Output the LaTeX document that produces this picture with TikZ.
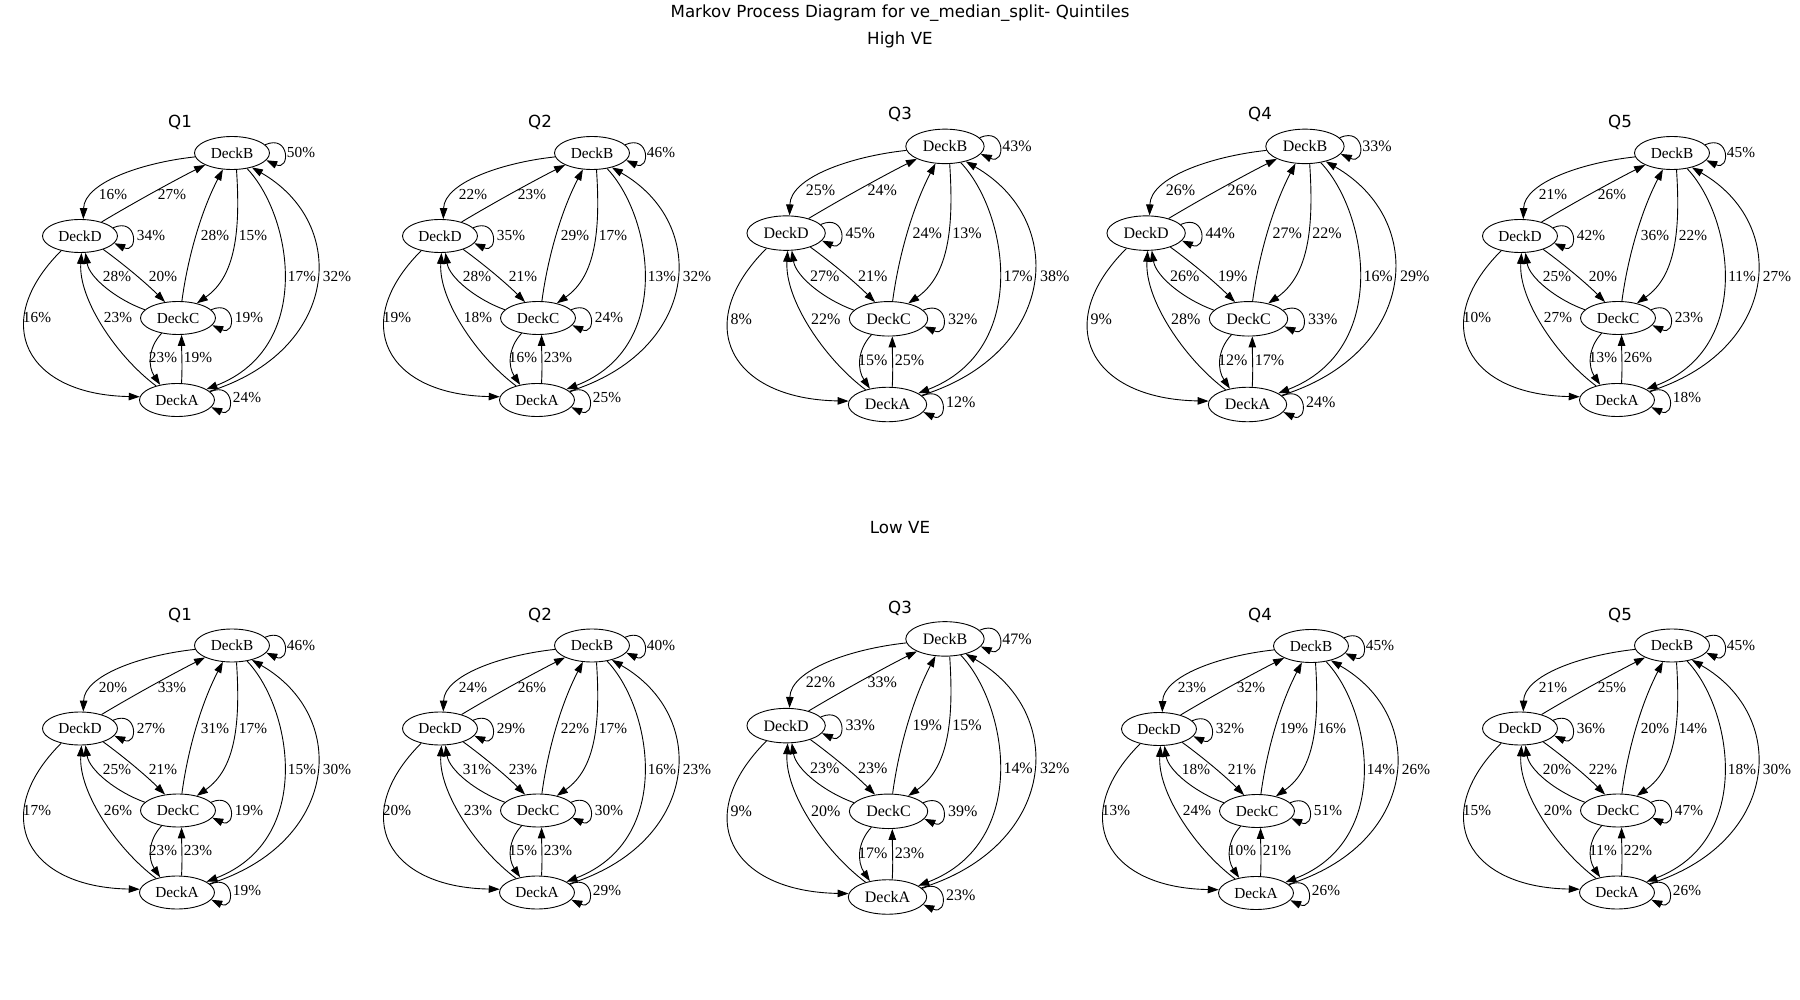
\documentclass[tikz,border=0pt]{standalone}
\usepackage{fontspec}
\setmainfont{Liberation Serif}
\newfontfamily\dvsans{DejaVu Sans}
\usetikzlibrary{shapes.geometric,arrows.meta}

\tikzset{
  deck/.style={ellipse,draw,line width=0.9pt,minimum width=75pt,minimum height=33pt,
    inner sep=0pt,font=\fontsize{15.3}{18}\selectfont},
  tr/.style={line width=0.9pt,-{Triangle[length=11pt,width=7.5pt]}},
  pct/.style={inner sep=0pt,font=\fontsize{15.3}{18}\selectfont},
  ttl/.style={anchor=base,inner sep=0pt,font=\dvsans\fontsize{16.67}{20}\selectfont},
}

% self transition drawn on the right side of a deck node
\newcommand\selfloop[1]{\draw[tr] (#1.14) .. controls +(25,11) and +(24,-11) .. (#1.-12);}

% one four-state transition graph: #1 name prefix, #2/#3 position of DeckA,
% #4 scale, #5 the sixteen transition percentages
\newcommand\markovpanel[5]{%
\begin{scope}[shift={(#2,-#3)},scale=#4,transform shape]
  \node[deck] (#1A) at (0,0) {DeckA};
  \node[deck] (#1C) at (1,82) {DeckC};
  \node[deck] (#1D) at (-97,164) {DeckD};
  \node[deck] (#1B) at (55,247) {DeckB};
  \draw[tr] (#1B.186) .. controls +(-55,-6) and +(1,36) .. (#1D.79);
  \draw[tr] (#1D.33) .. controls +(30,18) and +(-30,-15) .. (#1B.204);
  \draw[tr] (#1C.77) .. controls +(6,45) and +(-21,-40) .. (#1B.241);
  \draw[tr] (#1B.285) .. controls +(4,-60) and +(39,27) .. (#1C.38);
  \draw[tr] (#1D.-30) .. controls +(22,-16) and +(-18,18) .. (#1C.129);
  \draw[tr] (#1C.166) .. controls +(-28,10) and +(4,-25) .. (#1D.288);
  \draw[tr] (#1D.218) .. controls +(-73,-73) and +(-113,2) .. (#1A.175);
  \draw[tr] (#1A.146) .. controls +(-40,30) and +(-3,-46) .. (#1D.275);
  \draw[tr] (#1C.223) .. controls +(-14,-15) and +(-12,18) .. (#1A.138);
  \draw[tr] (#1A.75) .. controls +(1,16) and +(0,-16) .. (#1C.-78);
  \draw[tr] (#1B.-46) .. controls +(45,-47) and +(108,42) .. (#1A.20);
  \draw[tr] (#1A.15) .. controls +(129,40) and +(99,-57) .. (#1B.-36);
  \selfloop{#1A}\selfloop{#1B}\selfloop{#1C}\selfloop{#1D}
  \coordinate (lp1) at (124,247);
  \coordinate (lp2) at (-64,205);
  \coordinate (lp3) at (-5,205);
  \coordinate (lp4) at (-26,164);
  \coordinate (lp5) at (38,164);
  \coordinate (lp6) at (76,164);
  \coordinate (lp7) at (-60,123);
  \coordinate (lp8) at (-14,123);
  \coordinate (lp9) at (125,123);
  \coordinate (lp10) at (160,123);
  \coordinate (lp11) at (-140,82);
  \coordinate (lp12) at (-59,82);
  \coordinate (lp13) at (72,82);
  \coordinate (lp14) at (-14,42);
  \coordinate (lp15) at (21,42);
  \coordinate (lp16) at (70,2);
  \foreach \v [count=\i] in {#5} {\node[pct] (#1l\i) at (lp\i) {\v\%};}
\end{scope}}

\begin{document}
\begin{tikzpicture}[x=1pt,y=1pt]
  \useasboundingbox (0,0) rectangle (1800,-1000);

  \node[ttl] (maintitle) at (900,-18) {Markov Process Diagram for ve\_median\_split- Quintiles};
  \node[ttl] (hightitle) at (900,-45) {High VE};
  \node[ttl] (lowtitle) at (900,-533) {Low VE};

  % High VE row
  \node[ttl] (hq1) at (180,-128) {Q1};
  \node[ttl] (hq2) at (540,-127.5) {Q2};
  \node[ttl] (hq3) at (900,-120) {Q3};
  \node[ttl] (hq4) at (1260,-120) {Q4};
  \node[ttl] (hq5) at (1620,-127.5) {Q5};
  \markovpanel{h1}{177}{400}{1}{50,16,27,34,28,15,28,20,17,32,16,23,19,23,19,24}
  \markovpanel{h2}{537}{400}{1}{46,22,23,35,29,17,28,21,13,32,19,18,24,16,23,25}
  \markovpanel{h3}{887.5}{404.5}{1.045}{43,25,24,45,24,13,27,21,17,38,8,22,32,15,25,12}
  \markovpanel{h4}{1247.5}{404.5}{1.045}{33,26,26,44,27,22,26,19,16,29,9,28,33,12,17,24}
  \markovpanel{h5}{1617}{400}{1}{45,21,26,42,36,22,25,20,11,27,10,27,23,13,26,18}

  % Low VE row
  \node[ttl] (lq1) at (180,-620) {Q1};
  \node[ttl] (lq2) at (540,-620) {Q2};
  \node[ttl] (lq3) at (900,-613) {Q3};
  \node[ttl] (lq4) at (1260,-620) {Q4};
  \node[ttl] (lq5) at (1620,-620) {Q5};
  \markovpanel{l1}{177}{892.5}{1}{46,20,33,27,31,17,25,21,15,30,17,26,19,23,23,19}
  \markovpanel{l2}{537}{892.5}{1}{40,24,26,29,22,17,31,23,16,23,20,23,30,15,23,29}
  \markovpanel{l3}{887.5}{897}{1.045}{47,22,33,33,19,15,23,23,14,32,9,20,39,17,23,23}
  \markovpanel{l4}{1256}{893}{1}{45,23,32,32,19,16,18,21,14,26,13,24,51,10,21,26}
  \markovpanel{l5}{1617}{892.5}{1}{45,21,25,36,20,14,20,22,18,30,15,20,47,11,22,26}
\end{tikzpicture}
\end{document}
